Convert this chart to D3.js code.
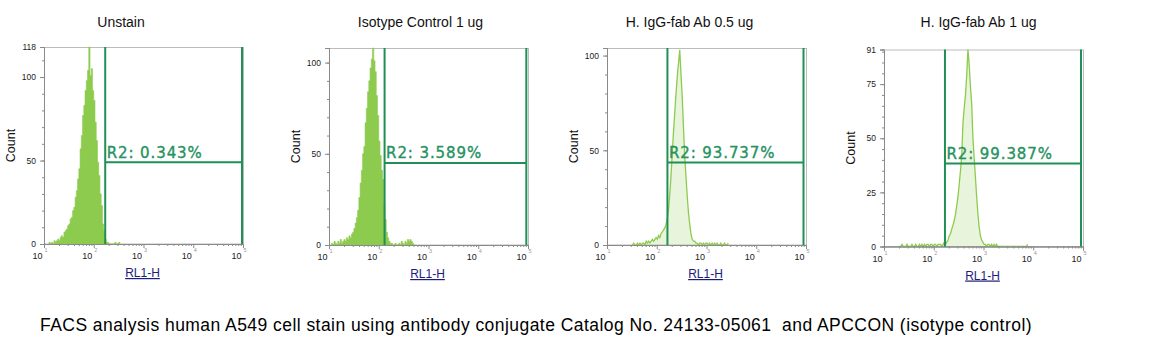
<!DOCTYPE html>
<html><head><meta charset="utf-8">
<script src="https://cdn.jsdelivr.net/npm/d3@7"></script>
<style>body{margin:0;background:#fff}svg{display:block}</style>
</head><body><svg id="c" width="1151" height="356"></svg>
<script>
// ---------------- data ----------------
const panelTitles = ["Unstain", "Isotype Control 1 ug", "H. IgG-fab Ab 0.5 ug", "H. IgG-fab Ab 1 ug"];
const gateLabels = ["R2: 0.343%", "R2: 3.589%", "R2: 93.737%", "R2: 99.387%"];
const yMaxValues = [118, 108, 104, 91];
const yTickLabels = [[0, 50, 100, 118], [0, 50, 100], [0, 50, 100], [0, 25, 50, 75, 91]];
const yMinorSteps = [10, 10, 10, 5];
const xTickExponents = [1, 2, 3, 4, 5];
const gateLow = [170, 131, 164, 168];
const gateHigh = [95500, 92500, 89100, 91200];
const gateLevel = [49, 45, 43.5, 38.3];
const binStartLog = [1.1, 1.05, 1.5, 1.3];
const binStepLog = 0.025;
const unstainCounts = [1,0,1,0,2,1,2,3,2,4, 5,4,7,8,9,11,12,15,16,20, 22,28,32,39,45,57,65,77,83,92,
  98,104,118,101,105,92,86,73,62,49, 41,30,23,12,8,3,1,1,0,0, 0,0,0,1,0,0,1];
const isotypeCounts = [1,0,2,1,0,2,1,3,1,2,3, 2,4,3,5,4,6,7,9,12,15, 19,26,34,41,50,54,67,75,84,90,
  97,102,108,101,95,82,71,57,49,41, 36,23,14,7,4,2,1,1,0,0, 1,0,0,1,0,2,1,0,2,1,3,2,3,2,1,0];
const igg05Counts = [0,1,0,0,1,0,1,0,1,1, 0,2,1,2,1,2,3,2,3,4, 3,5,4,6,7,8,9,11,14,19,
  27,37,49,60,70,80,89,96,103,90, 78,62,47,36,26,17,11,6,3,2, 2,1,1,0,1,1,0,1,0,1,
  1,0,1,0,1,0,1,0,1,0, 0,1,0,0,1,0,0,1];
const igg1Counts = [0,0,1,0,0,0,1,0,0,0, 1,0,0,1,0,0,1,0,1,0, 1,0,1,1,0,1,1,0,1,1,
  0,1,1,1,0,1,2,1,2,3, 5,6,8,10,12,15,19,23,29,35, 42,57,64,70,79,91,84,74,66,50,
  41,32,23,15,9,5,3,2,1,1, 0,1,1,0,1,0,1,0,1,0, 0,0,0,0,0,0,0,0,0,0, 0,0,0,0,0,0,0,0,0,0, 0,0,0,1];
const xAxisLabel = "RL1-H";
const yAxisLabel = "Count";
const caption = "FACS analysis human A549 cell stain using antibody conjugate Catalog No. 24133-05061  and APCCON (isotype control)";

// ---------------- layout / style ----------------
const countsList = [unstainCounts, isotypeCounts, igg05Counts, igg1Counts];
const plotW = 199, plotH = 197;
const panelLeft = [44, 329, 607, 884];
const panelTop = [47, 48, 48, 49.5];
const titleX = [121, 420.5, 689.5, 978.5];
const histMode = ["fill", "fill", "line", "line"];
const histColor = "#8dcb4e";
const gateColor = "#1f8f57";
const gateTextColor = "#26925f";
const FONT = "'Liberation Sans', Arial, sans-serif";

const svg = d3.select("#c");

panelTitles.forEach((title, k) => {
  svg.append("text").attr("x", titleX[k]).attr("y", 27).attr("text-anchor", "middle")
    .attr("font-family", FONT).attr("font-size", 14).attr("fill", "#111").text(title);

  const g = svg.append("g").attr("transform", `translate(${panelLeft[k]},${panelTop[k]})`);
  const x = d3.scaleLog().domain([10, 1e5]).range([0, plotW]);
  const y = d3.scaleLinear().domain([0, yMaxValues[k]]).range([plotH, 0]);

  // frame
  g.append("rect").attr("x", 0.5).attr("y", 0.5).attr("width", plotW).attr("height", plotH - 0.5)
    .attr("fill", "none").attr("stroke", "#bcbcbc");

  // histogram
  const counts = countsList[k];
  const start = binStartLog[k];
  if (histMode[k] === "fill") {
    const pts = counts.map((c, i) => [Math.pow(10, start + i * binStepLog), c]);
    pts.push([Math.pow(10, start + counts.length * binStepLog), counts[counts.length - 1]]);
    g.append("path").datum(pts)
      .attr("d", d3.area().curve(d3.curveStepAfter).x(d => x(d[0])).y0(y(0)).y1(d => y(d[1])))
      .attr("fill", histColor).attr("stroke", histColor).attr("stroke-width", 0.6);
  } else {
    const pts = counts.map((c, i) => [Math.pow(10, start + (i + 0.5) * binStepLog), c]);
    g.append("path").datum(pts)
      .attr("d", d3.area().x(d => x(d[0])).y0(y(0)).y1(d => y(d[1])))
      .attr("fill", histColor).attr("fill-opacity", 0.2);
    g.append("path").datum(pts)
      .attr("d", d3.line().x(d => x(d[0])).y(d => y(d[1])))
      .attr("fill", "none").attr("stroke", histColor).attr("stroke-width", 1.3);
  }

  // x axis
  const majors = xTickExponents.map(e => Math.pow(10, e));
  const minors = [];
  xTickExponents.slice(0, -1).forEach(e => { for (let m = 2; m <= 9; m++) minors.push(m * Math.pow(10, e)); });
  const xa = g.append("g").attr("transform", `translate(0,${plotH})`);
  xa.append("g").call(d3.axisBottom(x).tickValues(minors).tickSize(2).tickFormat(""));
  xa.append("g").call(d3.axisBottom(x).tickValues(majors).tickSize(4).tickFormat(""));
  xa.selectAll(".domain").attr("stroke", "#8a8a8a");
  xa.selectAll(".tick line").attr("stroke", "#8a8a8a");
  xTickExponents.forEach(e => {
    const tx = x(Math.pow(10, e));
    xa.append("text").attr("x", tx - 1.5).attr("y", 15).attr("text-anchor", "end")
      .attr("font-family", FONT).attr("font-size", 9).attr("fill", "#222").text("10");
    xa.append("text").attr("x", tx + 0.5).attr("y", 8).attr("font-family", FONT)
      .attr("font-size", 5.5).attr("fill", "#999").text(e);
  });

  // y axis
  const ymin = d3.range(0, yMaxValues[k] + 0.001, yMinorSteps[k]);
  const ya = g.append("g");
  ya.append("g").call(d3.axisLeft(y).tickValues(ymin).tickSize(2).tickFormat(""));
  ya.append("g").call(d3.axisLeft(y).tickValues(yTickLabels[k]).tickSize(4).tickPadding(4));
  ya.selectAll(".domain").attr("stroke", "#8a8a8a");
  ya.selectAll(".tick line").attr("stroke", "#8a8a8a");
  ya.selectAll("text").attr("font-family", FONT).attr("font-size", 8.5).attr("fill", "#222");

  // gate
  const gx1 = x(gateLow[k]), gx2 = x(gateHigh[k]), gy = y(gateLevel[k]);
  g.append("line").attr("x1", gx1).attr("x2", gx1).attr("y1", 0).attr("y2", plotH)
    .attr("stroke", gateColor).attr("stroke-width", 2);
  g.append("line").attr("x1", gx2).attr("x2", gx2).attr("y1", 0).attr("y2", plotH)
    .attr("stroke", gateColor).attr("stroke-width", 2);
  g.append("line").attr("x1", gx1).attr("x2", gx2).attr("y1", gy).attr("y2", gy)
    .attr("stroke", gateColor).attr("stroke-width", 2);
  g.append("text").attr("x", gx1 + 1.5).attr("y", gy - 4.5)
    .attr("font-family", "'DejaVu Sans', Verdana, sans-serif").attr("font-size", 15)
    .attr("letter-spacing", 0.9).attr("fill", gateTextColor)
    .attr("stroke", gateTextColor).attr("stroke-width", 0.35).text(gateLabels[k]);

  // axis titles
  g.append("text").attr("transform", `translate(-29,${plotH / 2}) rotate(-90)`)
    .attr("text-anchor", "middle").attr("font-family", FONT).attr("font-size", 12.5)
    .attr("fill", "#111").text(yAxisLabel);
  g.append("text").attr("x", plotW / 2 - 1).attr("y", plotH + 33).attr("text-anchor", "middle")
    .attr("font-family", FONT).attr("font-size", 12).attr("fill", "#1c1c7a")
    .attr("text-decoration", "underline").text(xAxisLabel);
});

svg.append("text").attr("x", 40).attr("y", 331).attr("font-family", FONT).attr("font-size", 17.5)
  .attr("letter-spacing", 0.45).attr("fill", "#000").style("white-space", "pre").text(caption);
</script>
</body></html>
